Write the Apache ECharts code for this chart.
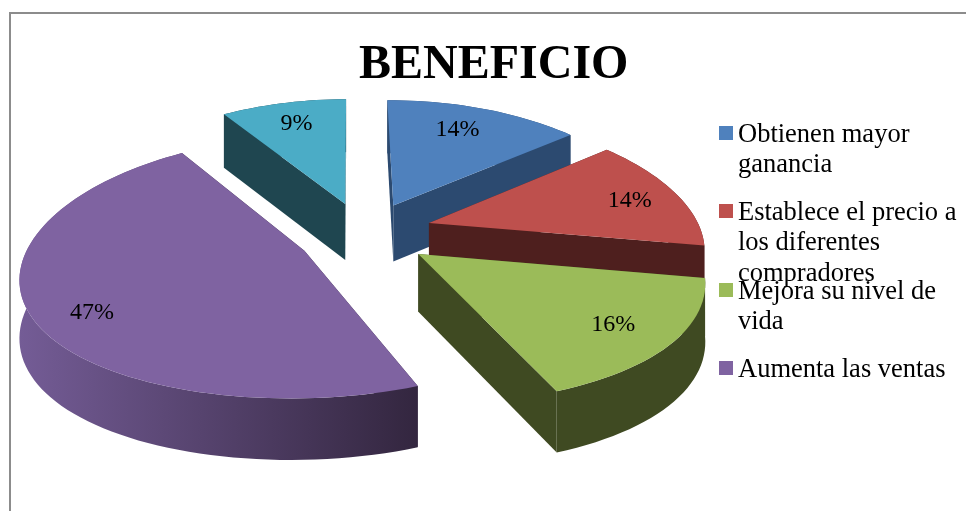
<!DOCTYPE html>
<html>
<head>
<meta charset="utf-8">
<style>html,body{margin:0;padding:0;background:#fff}#c{width:966px;height:511px}</style>
<script src="https://cdn.jsdelivr.net/npm/echarts@6/dist/echarts.min.js"></script>
</head>
<body>
<div id="c"></div>
<script>
const titleText = 'BENEFICIO';
const categories = ['Obtienen mayor ganancia', 'Establece el precio a los diferentes compradores', 'Mejora su nivel de vida', 'Aumenta las ventas', 'Otros'];
const legendLines = [['Obtienen mayor', 'ganancia'], ['Establece el precio a', 'los diferentes', 'compradores'], ['Mejora su nivel de', 'vida'], ['Aumenta las ventas']];
const values = [14, 14, 16, 47, 9];
const topColors = ['#4F81BD', '#BE504D', '#9BBB59', '#7F63A1', '#4BACC6'];
const wallColors = ['#2C4A70', '#4E1F1E', '#3F4A22', '#33263F', '#1F4650'];
const arcColors = [['#2C4A70', '#2C4A70'], ['#4E1F1E', '#4E1F1E'], ['#3F4A22', '#3F4A22'], ['#745C96', '#33263F'], ['#1F4650', '#1F4650']];
const paintOrder = [1, 3, 5, 2, 4];
const labelRadius = [0.62, 0.76, 0.9, 0.86, 0.66];
const labelShift = [[5, -14], [12, 1], [-30, -9], [21, 8], [-6, -11]];
const sliceNudge = [[5, 0], [3, -2], [3, 1], [5, 3], [3, 0]];
const legendCentres = [133, 211, 290, 368];

const CX = 361, CY = 233, R = 272, SQUASH = 125, PERSP_X = 0.18, PERSP_Y = 0.127, DEPTH = 57, EXPLODE = 0.25, ROTATE = -0.5 * Math.PI / 180, LH = 30.5, TEXT_DROP = 2, FONT = '"Liberation Serif","Times New Roman",serif';
const total = values.reduce((a, b) => a + b, 0);
const cumulative = values.map((_, i) => values.slice(0, i).reduce((a, b) => a + b, 0));

function project(u, v, drop, nudge) {
  const fx = 1 / (1 + PERSP_X * v), fy = 1 / (1 + PERSP_Y * v);
  return [CX + nudge[0] + R * u * fx, CY + nudge[1] - SQUASH * v * fy + (drop ? DEPTH * Math.sqrt(fy) : 0)];
}
function sliceRender(index) {
  return function (params, api) {
    const n = sliceNudge[index];
    const a0 = api.value(1) / total * 2 * Math.PI + ROTATE;
    const a1 = (api.value(1) + api.value(0)) / total * 2 * Math.PI + ROTATE;
    const mid = (a0 + a1) / 2;
    const ou = EXPLODE * Math.sin(mid), ov = EXPLODE * Math.cos(mid);
    const arcUV = [];
    const steps = Math.max(8, Math.ceil((a1 - a0) / (Math.PI / 90)));
    for (let i = 0; i <= steps; i++) {
      const t = a0 + (a1 - a0) * i / steps;
      arcUV.push([ou + Math.sin(t), ov + Math.cos(t)]);
    }
    const topArc = arcUV.map(p => project(p[0], p[1], false, n));
    const lowArc = arcUV.map(p => project(p[0], p[1], true, n));
    const tip = project(ou, ov, false, n), tipLow = project(ou, ov, true, n);
    const poly = (pts, fill) => ({ type: 'polygon', shape: { points: pts }, style: { fill: fill, stroke: null } });
    const wall = wallColors[index];
    const arcFill = new echarts.graphic.LinearGradient(0, 0, 1, 0, [
      { offset: 0, color: arcColors[index][0] }, { offset: 1, color: arcColors[index][1] }
    ]);
    const lr = labelRadius[index];
    const lp = project(ou + lr * Math.sin(mid), ov + lr * Math.cos(mid), false, n);
    return {
      type: 'group',
      children: [
        poly([tip, topArc[0], lowArc[0], tipLow], wall),
        poly([tip, topArc[steps], lowArc[steps], tipLow], wall),
        poly(topArc.concat(lowArc.slice().reverse()), arcFill),
        poly([tip].concat(topArc), topColors[index]),
        { type: 'text', style: { x: lp[0] + labelShift[index][0], y: lp[1] + labelShift[index][1], text: api.value(0) + '%', fill: '#000', font: '24px ' + FONT, align: 'center', verticalAlign: 'middle' } }
      ]
    };
  };
}

const chart = echarts.init(document.getElementById('c'), null, { renderer: 'canvas' });
chart.setOption({
  animation: false,
  backgroundColor: '#fff',
  title: { text: titleText, left: 354, top: 37, textStyle: { fontFamily: FONT, fontSize: 48, fontWeight: 'bold', color: '#000' } },
  tooltip: { show: false },
  legend: legendLines.map((lines, i) => {
    const spacer = (lines.length - 1) * LH + 2 * TEXT_DROP;
    return {
      left: 719, top: legendCentres[i] - (spacer + lines.length * LH) / 2, orient: 'vertical', padding: 0, itemGap: 0, itemWidth: 14, itemHeight: 14, icon: 'rect',
      selectedMode: false, data: [categories[i]],
      formatter: () => '{sp| }\n' + lines.map(l => '{t|' + l + '}').join('\n'),
      textStyle: {
        fontFamily: FONT, fontSize: 26.5, color: '#000',
        rich: {
          sp: { fontSize: 1, lineHeight: spacer, height: spacer },
          t: { fontFamily: FONT, fontSize: 26.5, color: '#000', lineHeight: LH }
        }
      }
    };
  }),
  graphic: [{ type: 'polyline', shape: { points: [[10, 511], [10, 13], [966, 13]] }, style: { stroke: '#8C8C8C', lineWidth: 2, fill: null }, silent: true }],
  series: values.map((v, i) => ({
    type: 'custom', name: categories[i], coordinateSystem: 'none', silent: true, z: paintOrder[i],
    itemStyle: { color: topColors[i] }, renderItem: sliceRender(i), data: [[v, cumulative[i]]]
  }))
});
</script>
</body>
</html>
